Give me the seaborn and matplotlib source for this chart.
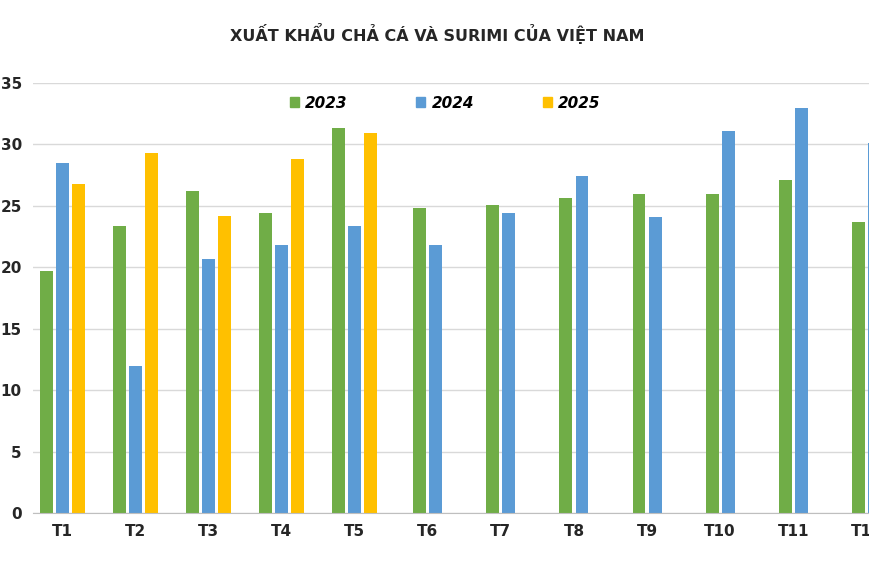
import matplotlib
matplotlib.use("Agg")
import matplotlib.pyplot as plt
import seaborn as sns
import pandas as pd
from matplotlib.patches import Patch

months = ["T1","T2","T3","T4","T5","T6","T7","T8","T9","T10","T11","T12"]
v2023 = [19.7,23.4,26.2,24.4,31.3,24.8,25.1,25.6,26.0,26.0,27.1,23.7]
v2024 = [28.5,12.0,20.7,21.8,23.4,21.8,24.4,27.4,24.1,31.1,33.0,30.1]
v2025 = [26.8,29.3,24.2,28.8,30.9]
years = ["2023","2024","2025"]
colors = {"2023":"#70AD47","2024":"#5B9BD5","2025":"#FFC000"}

rows = []
for i,m in enumerate(months):
    rows.append((m,"2023",v2023[i]))
    rows.append((m,"2024",v2024[i]))
    if i < len(v2025):
        rows.append((m,"2025",v2025[i]))
df = pd.DataFrame(rows, columns=["month","year","value"])
df3 = df[df.month.isin(months[:5])]
df2 = df[~df.month.isin(months[:5])]

fig = plt.figure(figsize=(8.7,5.68), dpi=100)
ax = fig.add_axes([33/870, 55/568, 1-33/870, 430/568])
sns.barplot(data=df3, x="month", y="value", hue="year", order=months,
            hue_order=years, palette=colors, width=0.66, gap=0.2, saturation=1,
            ax=ax, legend=False)
sns.barplot(data=df2, x="month", y="value", hue="year", order=months,
            hue_order=["2023","2024"], palette=colors, width=0.44, gap=0.2, saturation=1,
            ax=ax, legend=False)
ax.set_xlim(-0.4, 11.05)
ax.set_ylim(0,35)
ax.set_yticks(range(0,36,5))
ax.grid(axis="y", color="#d9d9d9", lw=1)
ax.set_axisbelow(True)
for s in ["top","right","left"]:
    ax.spines[s].set_visible(False)
ax.spines["bottom"].set_color("#bfbfbf")
ax.tick_params(length=0)
ax.tick_params(axis="y", pad=8, labelsize=11)
ax.tick_params(axis="x", pad=8, labelsize=11)
for t in ax.get_xticklabels()+ax.get_yticklabels():
    t.set_fontweight("bold"); t.set_color("#262626")
ax.set_xlabel(""); ax.set_ylabel("")
handles = [Patch(color=colors[y], label=y) for y in years]
fig.legend(handles=handles, loc="center", bbox_to_anchor=(445/870, 1-103/568),
           ncol=3, frameon=False, handlelength=0.6, handleheight=0.6,
           columnspacing=4.5, handletextpad=0.4,
           prop={"weight":"bold","style":"italic","size":11})
fig.text(437/870, 1-33/568, "XUẤT KHẨU CHẢ CÁ VÀ SURIMI CỦA VIỆT NAM",
         ha="center", va="center", fontsize=11.5, fontweight="bold", color="#262626")
fig.savefig("out.png", dpi=100)
